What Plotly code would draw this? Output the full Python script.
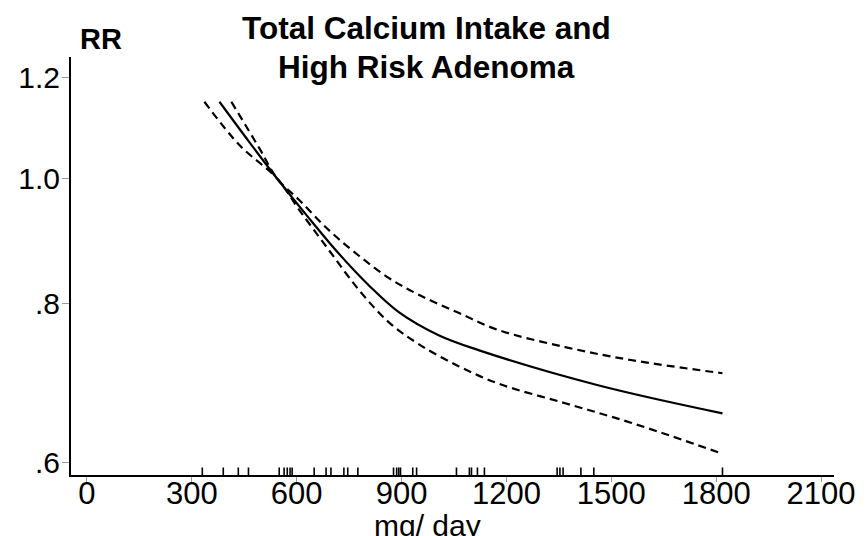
import plotly.graph_objects as go

# Total calcium intake (mg/day) vs relative risk of high-risk adenoma
mg_fit = [379, 464, 545, 635, 721, 806, 892, 1006, 1120, 1462, 1818]
rr_fit = [1.149, 1.069, 1.000, 0.932, 0.874, 0.826, 0.787, 0.755, 0.735, 0.690, 0.656]

mg_upper = [413, 493, 545, 607, 692, 778, 863, 949, 1063, 1177, 1368, 1556, 1818]
rr_upper = [1.149, 1.057, 1.000, 0.963, 0.912, 0.871, 0.837, 0.812, 0.786, 0.762, 0.739, 0.722, 0.705]

mg_lower = [336, 436, 545, 607, 692, 778, 863, 949, 1063, 1177, 1368, 1556, 1818]
rr_lower = [1.149, 1.063, 1.000, 0.946, 0.880, 0.819, 0.773, 0.743, 0.714, 0.692, 0.668, 0.645, 0.610]

# Observed intakes shown as a rug along the x axis
rug_mg = [330, 390, 433, 462, 550, 564, 573, 581, 587, 650, 684, 698, 735, 746,
          775, 877, 886, 892, 897, 932, 943, 1057, 1094, 1100, 1117, 1137,
          1345, 1353, 1362, 1413, 1450, 1818]

x_ticks = [0, 300, 600, 900, 1200, 1500, 1800, 2100]
y_ticks = [0.6, 0.8, 1.0, 1.2]
y_tick_text = [".6", ".8", "1.0", "1.2"]

FONT = "Liberation Sans, Arial, sans-serif"

fig = go.Figure()

fig.add_trace(go.Scatter(x=mg_upper, y=rr_upper, mode="lines", line_shape="spline",
                         line=dict(color="black", width=2.2, dash="8px,5px"),
                         showlegend=False, hoverinfo="skip"))
fig.add_trace(go.Scatter(x=mg_lower, y=rr_lower, mode="lines", line_shape="spline",
                         line=dict(color="black", width=2.2, dash="8px,5px"),
                         showlegend=False, hoverinfo="skip"))
fig.add_trace(go.Scatter(x=mg_fit, y=rr_fit, mode="lines", line_shape="spline",
                         line=dict(color="black", width=2.2),
                         showlegend=False, hoverinfo="skip"))

# rug segments on an overlaid linear axis (0 = x axis line)
rx, ry = [], []
for v in rug_mg:
    rx += [v, v, None]
    ry += [0, 0.018, None]
fig.add_trace(go.Scatter(x=rx, y=ry, mode="lines", yaxis="y2",
                         line=dict(color="black", width=1.6),
                         showlegend=False, hoverinfo="skip"))

title_font = dict(size=31.5, family=FONT, color="black")

fig.update_layout(
    width=867, height=536,
    margin=dict(l=71, r=30, t=57, b=61),
    paper_bgcolor="white", plot_bgcolor="white",
    font=dict(family=FONT, color="black"),
    xaxis=dict(range=[-45.6, 2137], tickvals=x_ticks, showgrid=False, zeroline=False,
               showline=True, linecolor="black", linewidth=2,
               ticks="outside", ticklen=5, tickcolor="#999999", tickwidth=1,
               ticklabelstandoff=-15,
               tickfont=dict(size=31, family=FONT, color="black")),
    yaxis=dict(type="log", range=[-0.2313, 0.0953], tickvals=y_ticks, ticktext=y_tick_text,
               showgrid=False, zeroline=False,
               showline=True, linecolor="black", linewidth=2,
               ticks="outside", ticklen=7, tickcolor="#999999", tickwidth=1,
               ticklabelstandoff=-4,
               tickfont=dict(size=30, family=FONT, color="black")),
    yaxis2=dict(overlaying="y", range=[0, 1], visible=False, fixedrange=True),
    annotations=[
        dict(text="<b>Total Calcium Intake and</b>", xref="paper", yref="paper",
             x=(428 - 71) / 766, y=1 + 29 / 418, xanchor="center", yanchor="middle",
             showarrow=False, font=title_font),
        dict(text="<b>High Risk Adenoma</b>", xref="paper", yref="paper",
             x=(428 - 71) / 766, y=1 - 10 / 418, xanchor="center", yanchor="middle",
             showarrow=False, font=title_font),
        dict(text="<b>RR</b>", xref="paper", yref="paper", x=(101 - 71) / 766, y=1 + 18 / 418,
             xanchor="center", yanchor="middle", showarrow=False,
             font=dict(size=29, family=FONT, color="black")),
        dict(text="mg/ day", xref="paper", yref="paper", x=(429 - 71) / 766, y=-(507 - 475) / 418,
             xanchor="center", yanchor="top", showarrow=False,
             font=dict(size=30, family=FONT, color="black")),
    ],
)

fig.write_html("out.html")
